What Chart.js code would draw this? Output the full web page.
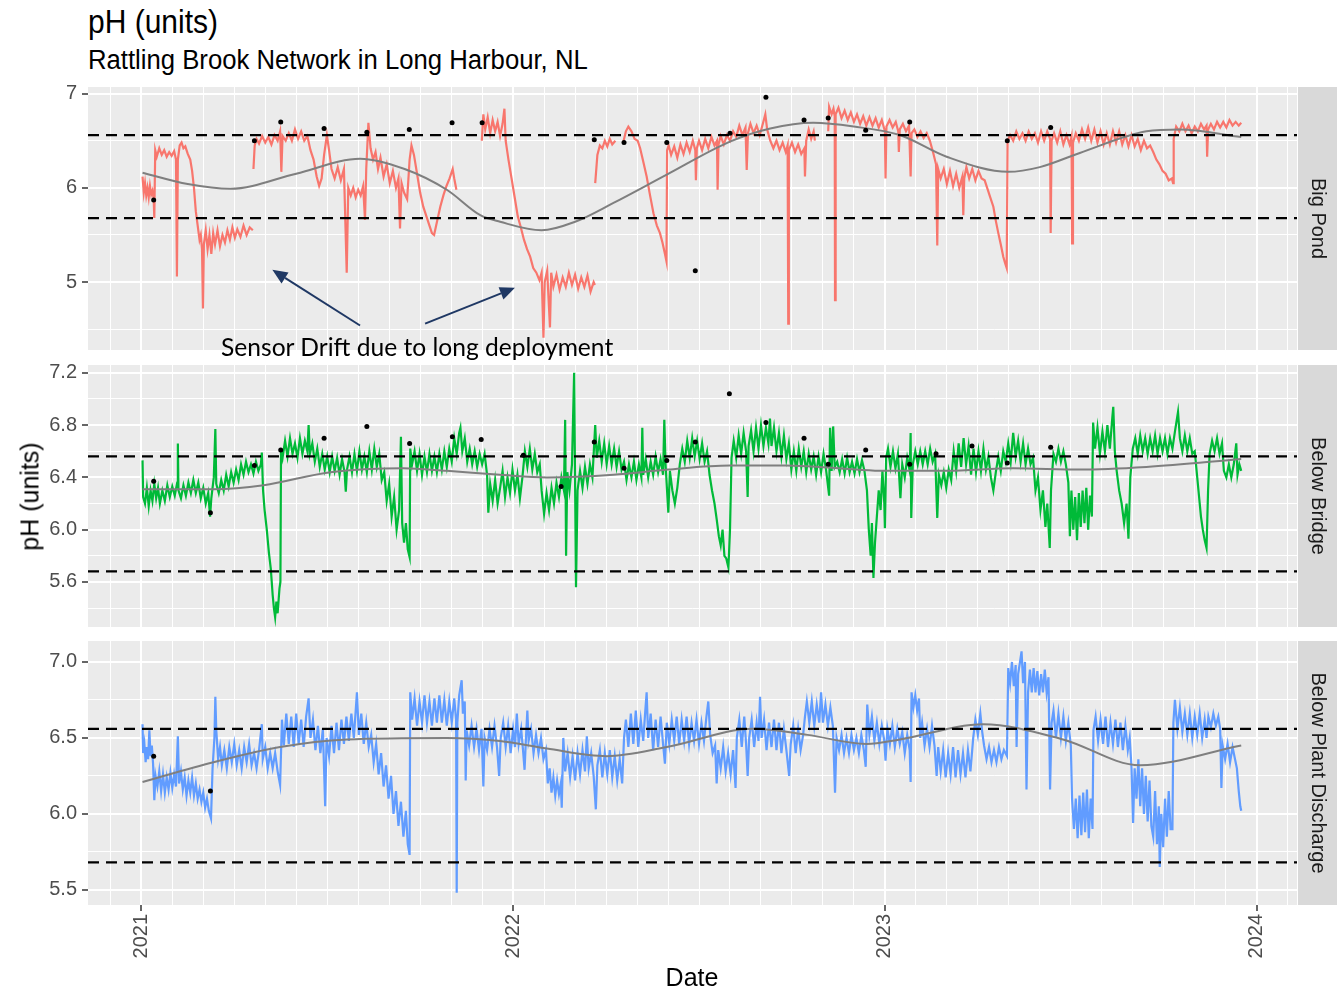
<!DOCTYPE html>
<html>
<head>
<meta charset="utf-8">
<script src="https://cdn.jsdelivr.net/npm/chart.js@4.4.1/dist/chart.umd.min.js"></script>
<style>
  body { margin: 0; background: #fff; }
  #wrap { position: relative; width: 1343px; height: 991px; font-family: "Liberation Sans", Arial, sans-serif; overflow: hidden; }
  canvas { position: absolute; left: 0; }
  .txt { position: absolute; white-space: nowrap; line-height: 1; color: #000; }
</style>
</head>
<body>
<div id="wrap">
  <div class="txt" style="left:88px;top:5px;font-size:30px;transform:scaleY(1.1);transform-origin:0 0;">pH (units)</div>
  <div class="txt" style="left:88px;top:46px;font-size:25.7px;transform:scaleY(1.08);transform-origin:0 0;">Rattling Brook Network in Long Harbour, NL</div>
  <canvas id="p1" width="1343" height="303" style="top:67px"></canvas>
  <canvas id="p2" width="1343" height="302" style="top:345px"></canvas>
  <canvas id="p3" width="1343" height="370" style="top:621px"></canvas>
  <div class="txt" style="left:-120px;width:300px;text-align:center;top:484px;font-size:25px;transform:rotate(-90deg);">pH (units)</div>
  <div class="txt" style="left:592px;width:200px;text-align:center;top:965px;font-size:25px;">Date</div>
  <div class="txt" style="left:221px;top:335px;font-size:24.6px;font-family:Lato, 'Open Sans', sans-serif;">Sensor Drift due to long deployment</div>
</div>
<script>
// x values are months since January 2021
const startYear = 2021;
const sites = ['Big Pond', 'Below Bridge', 'Below Plant Discharge'];
const guideLines = [6.56, 5.68];

// Big Pond sonde record (null = no data)
const bigPond = [
  [0.04,6.12],[0.08,5.95],[0.12,6.05],[0.16,5.92],[0.2,6.0],[0.24,5.9],[0.28,6.02],[0.32,5.93],[0.36,5.97],[0.4,5.88],[0.42,5.68],
  [0.45,6.4],[0.5,6.33],[0.58,6.42],[0.66,6.35],[0.74,6.4],[0.82,6.33],[0.9,6.38],[0.98,6.34],[1.06,6.39],[1.12,6.3],[1.15,5.06],[1.18,6.3],
  [1.24,6.45],[1.3,6.48],[1.36,6.42],[1.42,6.44],[1.5,6.36],[1.58,6.3],[1.64,6.18],[1.7,6.0],[1.76,5.75],[1.82,5.6],[1.88,5.45],[1.92,5.5],
  [1.96,5.35],[1.99,4.72],[2.02,5.4],[2.08,5.55],[2.14,5.35],[2.2,5.5],[2.26,5.3],[2.32,5.52],[2.38,5.4],[2.46,5.55],[2.54,5.38],[2.62,5.5],
  [2.7,5.42],[2.78,5.55],[2.86,5.45],[2.94,5.58],[3.02,5.47],[3.1,5.56],[3.2,5.48],[3.3,5.6],[3.4,5.5],[3.5,5.58],[3.6,5.55],[3.61,null],
  [3.62,6.2],[3.66,6.45],[3.72,6.52],[3.8,6.47],[3.9,6.55],[4.0,6.48],[4.1,6.54],[4.2,6.46],[4.3,6.56],[4.4,6.5],[4.48,6.6],[4.52,6.17],
  [4.56,6.55],[4.66,6.5],[4.76,6.58],[4.86,6.5],[4.96,6.62],[5.06,6.52],[5.16,6.6],[5.26,6.5],[5.36,6.55],[5.46,6.4],[5.56,6.3],[5.66,6.12],
  [5.74,6.02],[5.82,6.1],[5.9,6.35],[5.99,6.56],[6.06,6.4],[6.14,6.2],[6.24,6.1],[6.34,6.22],[6.44,6.08],[6.54,6.2],[6.63,5.1],[6.68,6.0],
  [6.76,5.92],[6.84,6.0],[6.92,5.9],[7.0,5.98],[7.08,5.92],[7.16,6.02],[7.22,5.66],[7.26,6.2],[7.33,6.69],[7.4,6.42],[7.48,6.3],[7.56,6.38],
  [7.64,6.2],[7.72,6.32],[7.82,6.12],[7.92,6.25],[8.02,6.05],[8.12,6.18],[8.22,6.0],[8.3,6.1],[8.35,5.57],[8.4,6.05],[8.48,5.95],[8.58,5.88],
  [8.66,6.3],[8.72,6.45],[8.8,6.35],[8.9,6.15],[9.0,5.95],[9.1,5.8],[9.2,5.7],[9.3,5.6],[9.38,5.52],[9.45,5.5],[9.55,5.65],[9.65,5.8],
  [9.75,5.92],[9.85,6.02],[9.95,6.1],[10.05,6.2],[10.1,6.1],[10.17,5.98],[10.5,null],
  [10.99,6.5],[11.04,6.78],[11.1,6.62],[11.18,6.75],[11.26,6.58],[11.34,6.72],[11.42,6.6],[11.5,6.7],[11.58,6.55],[11.66,6.68],[11.72,6.84],
  [11.76,6.5],[11.85,6.3],[11.95,6.1],[12.05,5.9],[12.15,5.7],[12.25,5.58],[12.35,5.45],[12.45,5.35],[12.55,5.27],[12.65,5.15],[12.75,5.1],
  [12.85,5.02],[12.92,5.1],[12.98,4.41],[13.02,5.0],[13.1,5.12],[13.19,4.52],[13.23,5.1],[13.3,4.95],[13.4,5.08],[13.5,4.92],[13.6,5.05],
  [13.7,4.95],[13.8,5.1],[13.9,4.97],[14.0,5.08],[14.1,4.93],[14.2,5.05],[14.3,4.95],[14.4,5.07],[14.5,4.9],[14.6,5.0],[14.64,4.97],[14.645,null],
  [14.65,6.05],[14.72,6.35],[14.8,6.45],[14.88,6.42],[14.96,6.5],[15.04,6.44],[15.12,6.52],[15.2,6.46],[15.3,6.5],[15.4,null],
  [15.56,6.49],[15.64,6.6],[15.72,6.65],[15.82,6.6],[15.92,6.52],[16.02,6.5],[16.1,6.42],[16.2,6.28],[16.31,6.12],[16.42,5.92],[16.53,5.73],
  [16.64,5.6],[16.74,5.52],[16.82,5.42],[16.9,5.3],[16.95,5.22],[16.97,6.4],[17.02,6.45],[17.1,6.35],[17.2,6.44],[17.3,6.32],[17.4,6.46],
  [17.5,6.36],[17.6,6.48],[17.7,6.38],[17.8,6.5],[17.88,6.4],[17.9,6.08],[17.93,6.42],[18.0,6.5],[18.1,6.4],[18.2,6.52],[18.3,6.42],[18.4,6.54],
  [18.5,6.45],[18.58,6.5],[18.6,5.98],[18.63,6.46],[18.7,6.55],[18.8,6.46],[18.9,6.56],[19.0,6.5],[19.1,6.6],[19.2,6.54],[19.3,6.66],[19.4,6.56],
  [19.5,6.64],[19.54,6.19],[19.58,6.58],[19.66,6.68],[19.76,6.58],[19.86,6.66],[19.96,6.56],[20.06,6.68],[20.14,6.78],[20.2,6.62],[20.3,6.5],
  [20.4,6.42],[20.5,6.5],[20.6,6.4],[20.7,6.48],[20.8,6.38],[20.86,6.45],[20.88,4.56],[20.9,6.4],[21.0,6.48],[21.1,6.38],[21.2,6.46],[21.3,6.36],
  [21.4,6.42],[21.42,6.12],[21.46,6.5],[21.54,6.62],[21.62,6.52],[21.7,6.6],[21.74,6.5],[21.9,null],
  [22.17,6.6],[22.2,6.86],[22.28,6.78],[22.34,6.84],[22.38,6.76],[22.39,4.81],[22.41,6.78],[22.5,6.85],[22.6,6.74],[22.7,6.82],[22.8,6.72],
  [22.9,6.8],[23.0,6.7],[23.1,6.78],[23.2,6.68],[23.3,6.76],[23.4,6.66],[23.5,6.75],[23.6,6.66],[23.7,6.74],[23.8,6.64],[23.9,6.72],[24.0,6.6],
  [24.02,6.1],[24.05,6.65],[24.15,6.72],[24.25,6.64],[24.35,6.7],[24.43,6.6],[24.45,6.38],[24.48,6.62],[24.58,6.68],[24.68,6.6],[24.78,6.66],
  [24.83,6.12],[24.86,6.58],[24.95,6.62],[25.05,6.54],[25.15,6.6],[25.25,6.53],[25.35,6.58],[25.45,6.5],[25.56,6.37],[25.65,6.25],[25.69,5.39],
  [25.72,6.2],[25.8,6.1],[25.9,6.2],[26.0,6.04],[26.1,6.18],[26.2,6.02],[26.3,6.15],[26.4,6.0],[26.5,6.12],[26.53,5.71],[26.56,6.1],[26.63,6.22],
  [26.72,6.1],[26.82,6.2],[26.92,6.08],[27.02,6.18],[27.12,6.1],[27.22,6.08],[27.3,6.0],[27.4,5.9],[27.5,5.8],[27.58,5.65],[27.66,5.52],
  [27.74,5.4],[27.82,5.27],[27.88,5.2],[27.93,5.15],[27.96,6.5],[28.04,6.56],[28.14,6.5],[28.24,6.6],[28.34,6.52],[28.44,6.58],[28.54,6.5],
  [28.64,6.6],[28.74,6.52],[28.84,6.58],[28.94,6.48],[29.04,6.6],[29.14,6.5],[29.24,6.6],[29.33,6.52],[29.35,5.52],[29.38,6.5],[29.46,6.58],
  [29.56,6.48],[29.66,6.6],[29.76,6.46],[29.86,6.56],[29.96,6.46],[30.02,6.54],[30.04,5.41],[30.07,6.48],[30.16,6.58],[30.26,6.5],[30.36,6.62],
  [30.46,6.52],[30.56,6.64],[30.66,6.5],[30.76,6.62],[30.86,6.48],[30.96,6.6],[31.06,6.46],[31.16,6.58],[31.26,6.46],[31.36,6.6],[31.46,6.48],
  [31.56,6.6],[31.66,6.46],[31.76,6.56],[31.86,6.44],[31.96,6.56],[32.06,6.44],[32.16,6.52],[32.26,6.4],[32.36,6.5],[32.46,6.42],[32.56,6.45],
  [32.66,6.38],[32.76,6.3],[32.86,6.25],[32.96,6.18],[33.06,6.15],[33.16,6.08],[33.26,6.1],[33.3,6.05],[33.32,6.52],[33.4,6.65],[33.5,6.6],
  [33.6,6.68],[33.7,6.6],[33.8,6.66],[33.9,6.58],[34.0,6.65],[34.1,6.6],[34.2,6.68],[34.3,6.62],[34.38,6.66],[34.4,6.33],[34.43,6.62],
  [34.52,6.68],[34.62,6.62],[34.72,6.7],[34.82,6.64],[34.92,6.7],[35.02,6.64],[35.12,6.72],[35.22,6.66],[35.32,6.7],[35.42,6.66],[35.5,6.69]
];

const belowBridge = [
  [0.04,6.53],[0.06,6.25],[0.12,6.2],[0.18,6.32],[0.24,6.18],[0.3,6.3],[0.36,6.22],[0.42,6.35],[0.48,6.24],[0.54,6.32],[0.6,6.2],[0.68,6.3],
  [0.76,6.22],[0.84,6.34],[0.92,6.25],[1.0,6.33],[1.08,6.26],[1.16,6.36],[1.18,6.66],[1.2,6.3],[1.28,6.24],[1.36,6.34],[1.44,6.26],[1.52,6.36],
  [1.6,6.28],[1.68,6.38],[1.76,6.28],[1.84,6.36],[1.92,6.24],[2.0,6.32],[2.08,6.2],[2.16,6.28],[2.22,6.1],[2.26,6.24],[2.34,6.4],[2.39,6.77],
  [2.42,6.35],[2.5,6.28],[2.58,6.38],[2.66,6.3],[2.74,6.42],[2.82,6.33],[2.9,6.44],[2.98,6.36],[3.06,6.46],[3.14,6.38],[3.22,6.5],[3.3,6.42],
  [3.38,6.52],[3.46,6.44],[3.54,6.5],[3.62,6.43],[3.7,6.52],[3.78,6.45],[3.86,6.5],[3.89,6.59],[3.93,6.3],[3.98,6.15],[4.05,6.0],[4.12,5.82],
  [4.18,5.7],[4.24,5.5],[4.28,5.4],[4.32,5.33],[4.36,5.45],[4.4,5.36],[4.46,5.55],[4.49,5.6],[4.51,6.62],[4.56,6.55],[4.64,6.68],[4.72,6.56],
  [4.8,6.7],[4.88,6.58],[4.96,6.66],[5.04,6.55],[5.12,6.7],[5.2,6.58],[5.28,6.68],[5.36,6.6],[5.4,6.8],[5.44,6.58],[5.52,6.66],[5.6,6.52],
  [5.68,6.62],[5.76,6.48],[5.84,6.58],[5.92,6.46],[6.0,6.56],[6.08,6.44],[6.16,6.56],[6.24,6.45],[6.32,6.55],[6.4,6.42],[6.48,6.54],[6.56,6.44],
  [6.6,6.29],[6.64,6.46],[6.72,6.56],[6.8,6.44],[6.88,6.58],[6.96,6.45],[7.04,6.6],[7.12,6.46],[7.2,6.56],[7.28,6.44],[7.36,6.6],[7.44,6.46],
  [7.52,6.62],[7.6,6.48],[7.68,6.58],[7.76,6.38],[7.84,6.44],[7.92,6.22],[8.0,6.35],[8.08,6.1],[8.16,6.25],[8.24,6.0],[8.32,6.15],[8.38,6.71],
  [8.42,6.05],[8.48,5.9],[8.54,6.05],[8.6,5.85],[8.66,5.79],[8.68,6.62],[8.74,6.5],[8.82,6.6],[8.9,6.45],[8.98,6.58],[9.06,6.42],[9.14,6.56],
  [9.22,6.44],[9.3,6.58],[9.38,6.45],[9.46,6.56],[9.54,6.44],[9.62,6.58],[9.7,6.46],[9.78,6.6],[9.86,6.48],[9.94,6.62],[10.02,6.52],[10.1,6.7],
  [10.18,6.58],[10.26,6.74],[10.3,6.78],[10.36,6.6],[10.44,6.7],[10.52,6.52],[10.6,6.62],[10.68,6.5],[10.76,6.6],[10.84,6.48],[10.92,6.58],
  [11.0,6.5],[11.08,6.58],[11.16,6.42],[11.2,6.13],[11.26,6.35],[11.34,6.22],[11.42,6.38],[11.5,6.2],[11.58,6.32],[11.66,6.45],[11.74,6.25],
  [11.82,6.4],[11.9,6.28],[11.98,6.46],[12.06,6.3],[12.14,6.42],[12.22,6.24],[12.3,6.4],[12.38,6.6],[12.46,6.48],[12.54,6.62],[12.62,6.46],
  [12.7,6.58],[12.78,6.44],[12.86,6.5],[12.92,6.3],[13.0,6.12],[13.08,6.28],[13.16,6.15],[13.24,6.32],[13.32,6.2],[13.4,6.36],[13.48,6.25],
  [13.56,6.4],[13.64,6.3],[13.68,6.84],[13.71,5.8],[13.75,6.44],[13.82,6.3],[13.9,6.5],[13.97,7.2],[14.03,5.56],[14.08,6.3],[14.16,6.45],
  [14.24,6.32],[14.32,6.48],[14.4,6.35],[14.48,6.5],[14.56,6.4],[14.65,6.8],[14.7,6.55],[14.78,6.68],[14.86,6.52],[14.94,6.66],[15.02,6.5],
  [15.1,6.64],[15.18,6.5],[15.26,6.62],[15.34,6.48],[15.42,6.6],[15.5,6.46],[15.58,6.52],[15.66,6.38],[15.74,6.5],[15.82,6.4],[15.9,6.52],
  [15.98,6.38],[16.06,6.5],[16.14,6.4],[16.17,6.78],[16.2,6.42],[16.28,6.54],[16.36,6.4],[16.44,6.52],[16.52,6.42],[16.6,6.56],[16.68,6.44],
  [16.76,6.54],[16.84,6.42],[16.88,6.84],[16.92,6.5],[17.01,6.13],[17.06,6.45],[17.14,6.3],[17.22,6.2],[17.3,6.32],[17.38,6.5],[17.46,6.62],
  [17.54,6.52],[17.62,6.68],[17.7,6.55],[17.78,6.7],[17.86,6.56],[17.94,6.68],[18.02,6.54],[18.1,6.66],[18.18,6.52],[18.26,6.6],[18.34,6.42],
  [18.42,6.3],[18.5,6.2],[18.57,6.08],[18.64,5.95],[18.7,5.88],[18.76,6.0],[18.82,5.8],[18.88,5.78],[18.95,5.71],[19.0,6.0],[19.05,6.55],
  [19.12,6.68],[19.2,6.55],[19.28,6.72],[19.36,6.58],[19.44,6.74],[19.52,6.6],[19.57,6.25],[19.6,6.64],[19.68,6.76],[19.76,6.6],[19.84,6.78],
  [19.92,6.62],[20.0,6.8],[20.08,6.64],[20.16,6.78],[20.24,6.66],[20.29,6.85],[20.34,6.64],[20.42,6.78],[20.5,6.6],[20.58,6.74],[20.66,6.56],
  [20.74,6.72],[20.82,6.54],[20.9,6.66],[20.98,6.46],[21.06,6.6],[21.14,6.45],[21.22,6.62],[21.3,6.48],[21.38,6.6],[21.46,6.44],[21.54,6.58],
  [21.62,6.46],[21.7,6.56],[21.78,6.42],[21.86,6.56],[21.94,6.44],[22.02,6.58],[22.1,6.46],[22.2,6.26],[22.23,6.78],[22.28,6.45],[22.33,6.79],
  [22.38,6.48],[22.46,6.52],[22.54,6.44],[22.62,6.54],[22.7,6.43],[22.78,6.55],[22.86,6.44],[22.94,6.52],[23.02,6.43],[23.1,6.54],[23.18,6.44],
  [23.26,6.53],[23.34,6.45],[23.42,6.3],[23.48,6.0],[23.54,5.8],[23.58,6.05],[23.63,5.63],[23.68,5.9],[23.74,6.1],[23.8,6.3],[23.86,6.15],
  [23.92,6.45],[23.98,6.2],[24.0,6.01],[24.04,6.55],[24.1,6.62],[24.18,6.48],[24.26,6.6],[24.34,6.47],[24.42,6.58],[24.5,6.24],[24.56,6.5],
  [24.64,6.4],[24.72,6.55],[24.8,6.45],[24.83,6.74],[24.85,6.09],[24.9,6.5],[24.98,6.6],[25.06,6.5],[25.14,6.6],[25.22,6.5],[25.3,6.6],
  [25.38,6.5],[25.46,6.62],[25.54,6.52],[25.62,6.58],[25.69,6.09],[25.74,6.42],[25.82,6.34],[25.9,6.44],[25.98,6.32],[26.06,6.46],[26.14,6.38],
  [26.22,6.6],[26.3,6.45],[26.38,6.66],[26.46,6.48],[26.54,6.7],[26.62,6.5],[26.7,6.64],[26.78,6.42],[26.86,6.62],[26.94,6.44],[27.02,6.6],
  [27.1,6.45],[27.18,6.62],[27.26,6.46],[27.34,6.56],[27.42,6.4],[27.5,6.3],[27.58,6.44],[27.66,6.56],[27.74,6.45],[27.82,6.6],[27.9,6.52],
  [27.98,6.66],[28.06,6.52],[28.14,6.74],[28.22,6.56],[28.3,6.68],[28.38,6.52],[28.46,6.66],[28.54,6.5],[28.62,6.62],[28.7,6.5],[28.78,6.55],
  [28.86,6.3],[28.94,6.4],[29.02,6.15],[29.1,6.3],[29.18,6.02],[29.24,6.2],[29.32,5.86],[29.36,6.3],[29.44,6.58],[29.52,6.52],[29.6,6.62],
  [29.68,6.52],[29.76,6.6],[29.84,6.5],[29.92,6.36],[29.97,5.95],[30.02,6.3],[30.08,6.0],[30.14,6.25],[30.2,5.92],[30.26,6.28],[30.32,6.02],
  [30.38,6.3],[30.44,6.05],[30.5,6.32],[30.56,6.0],[30.62,6.26],[30.68,6.1],[30.72,6.82],[30.78,6.62],[30.86,6.78],[30.94,6.58],[31.02,6.75],
  [31.1,6.6],[31.18,6.8],[31.26,6.62],[31.34,6.86],[31.37,6.94],[31.42,6.6],[31.48,6.45],[31.56,6.3],[31.64,6.2],[31.72,6.05],[31.8,6.2],
  [31.86,5.93],[31.92,6.4],[32.0,6.62],[32.08,6.7],[32.16,6.58],[32.24,6.72],[32.32,6.6],[32.4,6.7],[32.48,6.58],[32.56,6.7],[32.64,6.6],
  [32.72,6.72],[32.8,6.58],[32.88,6.7],[32.96,6.6],[33.04,6.7],[33.12,6.58],[33.2,6.7],[33.28,6.62],[33.36,6.75],[33.46,6.9],[33.52,6.7],
  [33.6,6.6],[33.68,6.72],[33.76,6.6],[33.84,6.7],[33.92,6.58],[34.0,6.6],[34.08,6.4],[34.14,6.25],[34.2,6.1],[34.26,6.0],[34.32,5.92],
  [34.38,5.86],[34.43,6.3],[34.48,6.58],[34.56,6.68],[34.64,6.6],[34.72,6.7],[34.8,6.58],[34.88,6.66],[34.94,6.45],[35.02,6.4],[35.1,6.5],
  [35.18,6.4],[35.26,6.5],[35.34,6.66],[35.38,6.42],[35.44,6.5],[35.5,6.45]
];

const belowPlant = [
  [0.04,6.59],[0.06,6.4],[0.1,6.46],[0.14,6.34],[0.18,6.44],[0.22,6.36],[0.26,6.55],[0.3,6.38],[0.34,6.45],[0.38,6.33],[0.42,6.09],[0.46,6.25],
  [0.52,6.18],[0.58,6.28],[0.64,6.15],[0.7,6.26],[0.76,6.14],[0.82,6.24],[0.88,6.16],[0.94,6.27],[1.0,6.17],[1.06,6.26],[1.12,6.18],[1.18,6.51],
  [1.22,6.2],[1.28,6.28],[1.34,6.16],[1.4,6.24],[1.46,6.12],[1.52,6.22],[1.58,6.14],[1.64,6.24],[1.7,6.12],[1.76,6.2],[1.82,6.1],[1.88,6.16],
  [1.94,6.08],[2.0,6.14],[2.06,6.04],[2.12,6.1],[2.18,6.02],[2.25,5.97],[2.3,6.3],[2.36,6.5],[2.39,6.77],[2.42,6.55],[2.48,6.36],[2.54,6.44],
  [2.6,6.32],[2.68,6.42],[2.76,6.3],[2.84,6.44],[2.92,6.34],[3.0,6.46],[3.08,6.32],[3.16,6.42],[3.24,6.3],[3.32,6.44],[3.4,6.34],[3.48,6.46],
  [3.56,6.32],[3.64,6.4],[3.72,6.3],[3.8,6.42],[3.89,6.59],[3.92,6.36],[4.0,6.44],[4.08,6.3],[4.16,6.4],[4.24,6.3],[4.32,6.4],[4.4,6.28],
  [4.48,6.19],[4.54,6.62],[4.6,6.45],[4.68,6.66],[4.76,6.46],[4.84,6.64],[4.92,6.44],[5.0,6.66],[5.08,6.46],[5.16,6.62],[5.24,6.44],[5.32,6.64],
  [5.4,6.76],[5.46,6.5],[5.54,6.62],[5.62,6.42],[5.7,6.58],[5.78,6.4],[5.86,6.56],[5.935,6.05],[5.98,6.5],[6.06,6.38],[6.14,6.58],[6.22,6.4],
  [6.3,6.6],[6.38,6.42],[6.46,6.62],[6.54,6.46],[6.62,6.64],[6.7,6.48],[6.78,6.66],[6.86,6.5],[6.96,6.8],[7.02,6.52],[7.1,6.66],[7.18,6.46],
  [7.26,6.6],[7.34,6.44],[7.42,6.52],[7.5,6.34],[7.58,6.46],[7.66,6.26],[7.74,6.4],[7.82,6.18],[7.9,6.32],[7.98,6.1],[8.06,6.25],[8.14,6.0],
  [8.22,6.15],[8.3,5.92],[8.38,6.08],[8.46,5.85],[8.54,6.02],[8.6,5.8],[8.66,5.73],[8.68,6.8],[8.74,6.62],[8.82,6.76],[8.9,6.58],[8.98,6.74],
  [9.06,6.6],[9.14,6.78],[9.22,6.6],[9.3,6.74],[9.38,6.58],[9.46,6.76],[9.54,6.6],[9.62,6.78],[9.7,6.6],[9.78,6.75],[9.86,6.58],[9.94,6.74],
  [10.02,6.6],[10.1,6.76],[10.16,6.62],[10.18,5.48],[10.2,6.6],[10.26,6.78],[10.34,6.88],[10.38,6.66],[10.44,6.74],[10.47,6.22],[10.5,6.55],
  [10.58,6.45],[10.66,6.58],[10.74,6.44],[10.82,6.56],[10.9,6.42],[10.98,6.56],[11.04,6.18],[11.08,6.5],[11.16,6.42],[11.24,6.56],[11.32,6.44],
  [11.4,6.58],[11.48,6.44],[11.55,6.25],[11.6,6.5],[11.68,6.6],[11.76,6.44],[11.84,6.58],[11.92,6.4],[12.0,6.56],[12.06,6.44],[12.12,6.66],
  [12.18,6.46],[12.26,6.56],[12.32,6.42],[12.37,6.29],[12.42,6.52],[12.46,6.68],[12.5,6.48],[12.58,6.56],[12.66,6.4],[12.74,6.52],[12.82,6.4],
  [12.9,6.5],[12.98,6.36],[13.06,6.42],[13.12,6.2],[13.18,6.3],[13.24,6.14],[13.3,6.24],[13.36,6.12],[13.42,6.22],[13.48,6.13],[13.54,6.2],
  [13.57,6.04],[13.62,6.5],[13.68,6.28],[13.76,6.4],[13.84,6.24],[13.92,6.38],[14.0,6.22],[14.08,6.4],[14.16,6.26],[14.24,6.42],[14.32,6.28],
  [14.38,6.51],[14.44,6.3],[14.52,6.4],[14.6,6.25],[14.67,6.03],[14.72,6.32],[14.8,6.42],[14.88,6.24],[14.96,6.4],[15.04,6.26],[15.12,6.42],
  [15.2,6.24],[15.28,6.38],[15.36,6.22],[15.44,6.36],[15.52,6.2],[15.58,6.5],[15.64,6.62],[15.72,6.44],[15.8,6.66],[15.88,6.46],[15.96,6.68],
  [16.04,6.44],[16.12,6.62],[16.2,6.48],[16.26,6.66],[16.31,6.8],[16.36,6.5],[16.44,6.66],[16.52,6.42],[16.6,6.62],[16.68,6.44],[16.76,6.64],
  [16.84,6.46],[16.9,6.33],[16.96,6.6],[17.04,6.46],[17.12,6.62],[17.2,6.48],[17.28,6.64],[17.36,6.46],[17.44,6.62],[17.52,6.48],[17.6,6.64],
  [17.68,6.46],[17.76,6.6],[17.84,6.48],[17.92,6.62],[18.0,6.46],[18.08,6.6],[18.16,6.48],[18.24,6.64],[18.3,6.74],[18.36,6.52],[18.44,6.4],
  [18.52,6.45],[18.57,6.2],[18.62,6.42],[18.7,6.3],[18.78,6.44],[18.86,6.28],[18.94,6.4],[19.02,6.26],[19.1,6.42],[19.18,6.17],[19.22,6.5],
  [19.3,6.62],[19.38,6.44],[19.46,6.64],[19.52,6.46],[19.57,6.25],[19.62,6.5],[19.7,6.62],[19.78,6.44],[19.86,6.6],[19.92,6.48],[19.97,6.77],
  [20.02,6.5],[20.1,6.62],[20.18,6.42],[20.26,6.6],[20.34,6.44],[20.42,6.62],[20.5,6.42],[20.58,6.6],[20.66,6.4],[20.74,6.56],[20.82,6.42],
  [20.91,6.25],[20.96,6.46],[21.04,6.58],[21.12,6.4],[21.2,6.56],[21.28,6.42],[21.36,6.52],[21.42,6.64],[21.48,6.74],[21.56,6.6],[21.64,6.74],
  [21.72,6.58],[21.8,6.72],[21.88,6.6],[21.94,6.8],[22.0,6.6],[22.08,6.72],[22.16,6.58],[22.24,6.7],[22.32,6.58],[22.39,6.14],[22.44,6.5],
  [22.52,6.42],[22.6,6.52],[22.68,6.4],[22.76,6.5],[22.84,6.4],[22.92,6.52],[23.0,6.42],[23.08,6.5],[23.16,6.4],[23.24,6.52],[23.32,6.42],
  [23.38,6.31],[23.43,6.72],[23.5,6.52],[23.58,6.64],[23.66,6.48],[23.74,6.6],[23.82,6.46],[23.9,6.58],[23.98,6.48],[24.02,6.35],[24.08,6.56],
  [24.16,6.46],[24.24,6.58],[24.32,6.44],[24.4,6.56],[24.48,6.46],[24.56,6.54],[24.64,6.4],[24.72,6.52],[24.8,6.42],[24.83,6.21],[24.86,6.8],
  [24.92,6.7],[24.98,6.78],[25.04,6.68],[25.1,6.76],[25.14,6.5],[25.2,6.6],[25.28,6.45],[25.36,6.56],[25.44,6.44],[25.52,6.58],[25.6,6.45],
  [25.67,6.25],[25.72,6.44],[25.8,6.28],[25.88,6.42],[25.96,6.24],[26.04,6.4],[26.12,6.26],[26.2,6.44],[26.28,6.24],[26.36,6.42],[26.44,6.26],
  [26.52,6.4],[26.6,6.24],[26.68,6.42],[26.76,6.28],[26.85,6.5],[26.92,6.62],[27.0,6.52],[27.08,6.66],[27.14,6.54],[27.2,6.45],[27.28,6.36],
  [27.36,6.44],[27.44,6.34],[27.52,6.42],[27.6,6.34],[27.68,6.44],[27.76,6.36],[27.84,6.42],[27.94,6.38],[27.98,6.96],[28.04,6.86],[28.1,7.0],
  [28.16,6.84],[28.22,6.98],[28.25,6.44],[28.3,6.92],[28.36,7.0],[28.41,7.07],[28.46,6.86],[28.52,7.0],[28.57,6.16],[28.62,6.8],[28.68,6.95],
  [28.74,6.8],[28.8,6.96],[28.86,6.8],[28.92,6.94],[28.98,6.78],[29.04,6.92],[29.1,6.8],[29.16,6.95],[29.22,6.8],[29.28,6.9],[29.33,6.16],
  [29.38,6.6],[29.44,6.68],[29.52,6.5],[29.6,6.66],[29.68,6.5],[29.76,6.64],[29.84,6.48],[29.92,6.6],[30.0,6.45],[30.04,6.1],[30.1,5.9],
  [30.16,6.1],[30.22,5.84],[30.28,6.12],[30.34,5.86],[30.4,6.14],[30.46,5.88],[30.52,6.16],[30.58,5.84],[30.64,6.1],[30.7,5.9],[30.73,6.55],
  [30.8,6.64],[30.88,6.48],[30.96,6.62],[31.04,6.46],[31.12,6.64],[31.2,6.44],[31.28,6.6],[31.36,6.46],[31.44,6.62],[31.52,6.44],[31.6,6.6],
  [31.68,6.42],[31.76,6.58],[31.84,6.42],[31.9,6.5],[31.96,6.3],[32.01,5.94],[32.06,6.3],[32.12,6.1],[32.18,6.36],[32.24,6.05],[32.3,6.3],
  [32.36,6.0],[32.42,6.25],[32.48,5.95],[32.54,6.22],[32.6,5.92],[32.66,5.85],[32.72,6.15],[32.78,5.8],[32.84,6.05],[32.87,5.65],[32.92,6.0],
  [32.98,5.78],[33.04,6.1],[33.1,5.85],[33.16,6.15],[33.22,5.9],[33.28,5.9],[33.31,6.6],[33.36,6.75],[33.44,6.56],[33.52,6.7],[33.6,6.54],
  [33.68,6.66],[33.76,6.52],[33.84,6.66],[33.92,6.5],[34.0,6.64],[34.08,6.52],[34.16,6.66],[34.24,6.5],[34.32,6.62],[34.38,6.5],[34.44,6.64],
  [34.52,6.57],[34.6,6.66],[34.68,6.58],[34.76,6.64],[34.82,6.56],[34.86,6.17],[34.9,6.45],[34.98,6.36],[35.06,6.46],[35.14,6.34],[35.22,6.44],
  [35.3,6.36],[35.36,6.3],[35.42,6.15],[35.47,6.05],[35.5,6.02]
];

// grab samples (black dots)
const bigPondSamples = [[0.4,5.87],[3.65,6.5],[4.5,6.7],[5.9,6.63],[7.28,6.59],[8.65,6.62],[10.03,6.69],[11.0,6.69],[14.62,6.51],[15.58,6.48],
  [16.96,6.48],[17.88,5.12],[19.0,6.58],[20.16,6.96],[21.39,6.72],[22.17,6.74],[23.38,6.61],[24.8,6.7],[27.95,6.5],[29.35,6.64]];
const belowBridgeSamples = [[0.4,6.37],[2.23,6.13],[3.65,6.49],[4.5,6.61],[5.9,6.7],[7.28,6.79],[8.66,6.66],[10.04,6.71],[10.97,6.69],
  [12.33,6.57],[13.55,6.33],[14.62,6.67],[15.58,6.47],[16.96,6.53],[17.88,6.67],[18.98,7.04],[20.16,6.82],[21.39,6.7],[22.17,6.5],[23.38,6.61],
  [24.8,6.5],[25.65,6.58],[26.81,6.64],[27.95,6.51],[29.35,6.63]];
const belowPlantSamples = [[0.4,6.38],[2.23,6.15]];

// smoothed trend (grey)
const bigPondTrend = [[0.04,6.16],[1.5,6.04],[2.87,5.99],[5,6.15],[7.06,6.31],[8.5,6.2],[9.86,5.98],[10.94,5.71],[11.58,5.64],[12.92,5.55],
  [14,5.64],[15.24,5.84],[16.96,6.14],[19.0,6.49],[20.3,6.63],[21.69,6.69],[23.0,6.65],[24.48,6.56],[25.99,6.33],[27.98,6.17],[29.0,6.22],
  [30.29,6.37],[32.44,6.6],[33.52,6.62],[35.5,6.54]];
const belowBridgeTrend = [[0.04,6.31],[2.3,6.31],[3.95,6.34],[6.1,6.44],[8.46,6.47],[9.86,6.45],[11.58,6.42],[13.09,6.4],[15.24,6.42],
  [17.0,6.46],[19.0,6.49],[20.8,6.49],[22.5,6.47],[23.84,6.45],[26.0,6.45],[28.14,6.47],[30.29,6.46],[32.44,6.48],[35.5,6.54]];
const belowPlantTrend = [[0.04,6.21],[2.33,6.34],[4.48,6.44],[6.63,6.49],[9.86,6.5],[11.58,6.48],[13.09,6.43],[15.02,6.38],[16.96,6.44],
  [19.75,6.56],[21.5,6.52],[23.41,6.46],[24.48,6.49],[27.17,6.59],[29.75,6.49],[32.23,6.32],[35.5,6.45]];

// annotation arrows in panel 1: [fromMonth, fromPH, toMonth, toPH]
const driftArrows = [[7.06,4.54,4.23,5.13],[9.16,4.56,12.06,4.94]];

const xMin = -1.72, xMax = 37.3;
const FONT = '"Liberation Sans", Arial, sans-serif';

const toXY = arr => arr.map(p => ({x: p[0], y: p[1]}));

const panelDeco = {
  id: 'panelDeco',
  beforeDraw(chart) {
    const {ctx, chartArea: a} = chart;
    ctx.save();
    ctx.fillStyle = '#EBEBEB';
    ctx.fillRect(a.left, a.top, a.right - a.left, a.bottom - a.top);
    ctx.restore();
  },
  afterDraw(chart, args, opts) {
    const {ctx, chartArea: a} = chart;
    ctx.save();
    ctx.fillStyle = '#D9D9D9';
    ctx.fillRect(a.right + 1, a.top, 39, a.bottom - a.top);
    ctx.translate(a.right + 20.5, (a.top + a.bottom) / 2);
    ctx.rotate(Math.PI / 2);
    ctx.fillStyle = '#1A1A1A';
    ctx.font = '20px ' + FONT;
    ctx.textAlign = 'center';
    ctx.textBaseline = 'middle';
    ctx.fillText(opts.site, 0, 0);
    ctx.restore();

    if (opts.arrows) {
      const xs = chart.scales.x, ys = chart.scales.y;
      ctx.save();
      ctx.strokeStyle = '#1F3864';
      ctx.fillStyle = '#1F3864';
      ctx.lineWidth = 2;
      opts.arrows.forEach(a2 => {
        const x0 = xs.getPixelForValue(a2[0]), y0 = ys.getPixelForValue(a2[1]);
        const x1 = xs.getPixelForValue(a2[2]), y1 = ys.getPixelForValue(a2[3]);
        const ang = Math.atan2(y1 - y0, x1 - x0);
        const L = 15, W = 6.5;
        const bx = x1 - L * Math.cos(ang), by = y1 - L * Math.sin(ang);
        ctx.beginPath();
        ctx.moveTo(x0, y0);
        ctx.lineTo(bx, by);
        ctx.stroke();
        ctx.beginPath();
        ctx.moveTo(x1, y1);
        ctx.lineTo(bx + W * Math.sin(ang), by - W * Math.cos(ang));
        ctx.lineTo(bx - W * Math.sin(ang), by + W * Math.cos(ang));
        ctx.closePath();
        ctx.fill();
      });
      ctx.restore();
    }
  }
};

function buildPanel(id, o) {
  const isMaj = v => Math.abs(v / o.yMajor - Math.round(v / o.yMajor)) < 1e-6;
  const guide = v => [{x: xMin, y: v}, {x: xMax, y: v}];
  new Chart(document.getElementById(id), {
    type: 'line',
    data: {
      datasets: [
        {data: toXY(o.samples), showLine: false, pointRadius: 2.5, pointBackgroundColor: '#000', pointBorderWidth: 0, order: 0},
        {data: guide(guideLines[0]), borderColor: '#000', borderWidth: 2.2, borderDash: [11, 7], pointRadius: 0, order: 1},
        {data: guide(guideLines[1]), borderColor: '#000', borderWidth: 2.2, borderDash: [11, 7], pointRadius: 0, order: 1},
        {data: toXY(o.trend), borderColor: '#7F7F7F', borderWidth: 2, cubicInterpolationMode: 'monotone', pointRadius: 0, order: 2},
        {data: toXY(o.series), borderColor: o.colour, borderWidth: 2.2, pointRadius: 0, spanGaps: false, order: 3}
      ]
    },
    options: {
      responsive: false,
      animation: false,
      events: [],
      layout: {padding: {top: 20, bottom: o.bottom ? 0 : 20, left: 0, right: 46}},
      plugins: {
        legend: {display: false},
        tooltip: {enabled: false},
        panelDeco: {site: o.site, arrows: o.arrows}
      },
      scales: {
        x: {
          type: 'linear', min: xMin, max: xMax,
          afterFit(s) { s.height = o.bottom ? 86 : 0; },
          border: {display: false},
          grid: {
            color: '#FFFFFF',
            lineWidth: c => (c.tick && c.tick.value % 12 === 0) ? 2 : 1,
            drawTicks: !!o.bottom,
            tickLength: 6,
            tickWidth: 1.5,
            tickColor: c => (c.tick && c.tick.value % 12 === 0) ? '#333333' : 'rgba(0,0,0,0)'
          },
          ticks: {
            display: !!o.bottom, stepSize: 1, includeBounds: false, autoSkip: false,
            minRotation: 90, maxRotation: 90, padding: 3,
            color: '#4D4D4D', font: {size: 20, family: FONT},
            callback: v => v % 12 === 0 ? String(startYear + v / 12) : ''
          }
        },
        y: {
          min: o.yMin, max: o.yMax,
          afterFit(s) { s.width = 88; },
          border: {display: false},
          grid: {
            color: '#FFFFFF',
            lineWidth: c => (c.tick && isMaj(c.tick.value)) ? 2 : 1,
            tickLength: 6,
            tickWidth: 1.5,
            tickColor: c => (c.tick && isMaj(c.tick.value)) ? '#333333' : 'rgba(0,0,0,0)'
          },
          ticks: {
            stepSize: o.yStep, includeBounds: false, autoSkip: false, padding: 5,
            color: '#4D4D4D', font: {size: 20, family: FONT},
            callback: v => isMaj(v) ? v.toFixed(o.digits) : ''
          }
        }
      }
    },
    plugins: [panelDeco]
  });
}

document.addEventListener('DOMContentLoaded', () => {
  buildPanel('p1', {series: bigPond, samples: bigPondSamples, trend: bigPondTrend, colour: '#F8766D',
    yMin: 4.28, yMax: 7.07, yStep: 0.5, yMajor: 1, digits: 0, site: sites[0], arrows: driftArrows});
  buildPanel('p2', {series: belowBridge, samples: belowBridgeSamples, trend: belowBridgeTrend, colour: '#00BA38',
    yMin: 5.255, yMax: 7.26, yStep: 0.2, yMajor: 0.4, digits: 1, site: sites[1]});
  buildPanel('p3', {series: belowPlant, samples: belowPlantSamples, trend: belowPlantTrend, colour: '#619CFF',
    yMin: 5.40, yMax: 7.138, yStep: 0.25, yMajor: 0.5, digits: 1, site: sites[2], bottom: true});
});
</script>
</body>
</html>
